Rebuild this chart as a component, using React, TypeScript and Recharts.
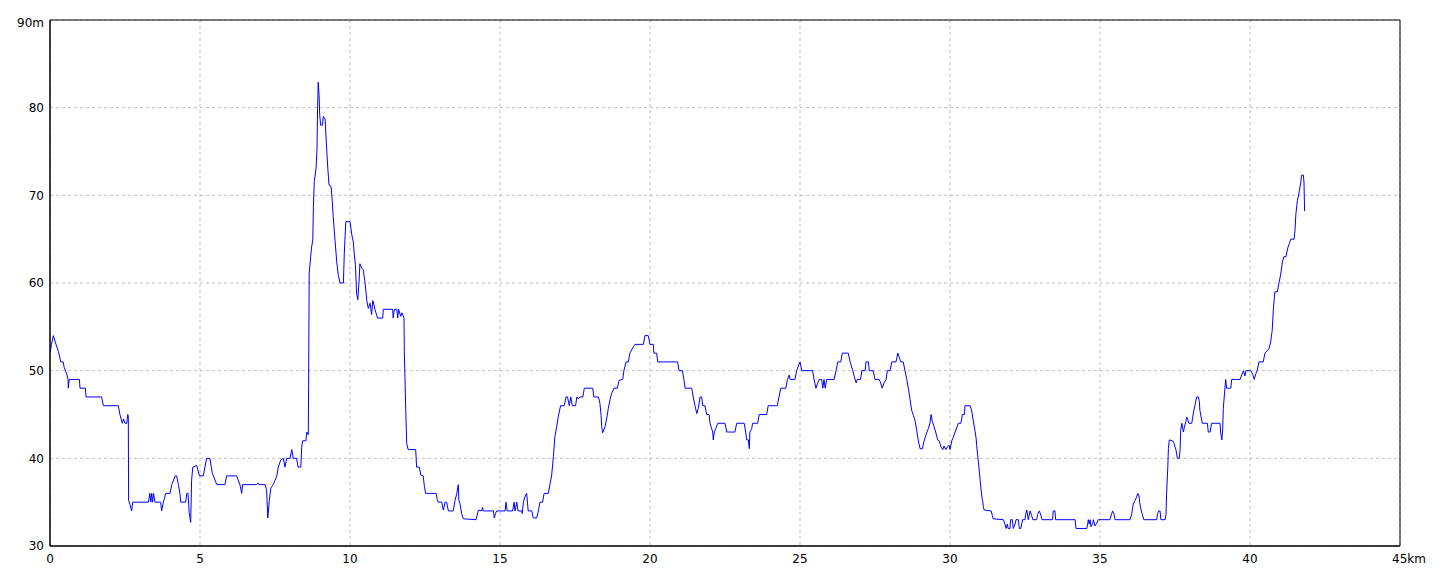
import React from 'react';
import { LineChart, Line, XAxis, YAxis, CartesianGrid, ReferenceArea } from 'recharts';

// [distance km, elevation m]
const segmentStart: [number, number][] = [
  [0, 52], [0.05, 53], [0.11, 54], [0.2, 53], [0.28, 52.2], [0.36, 51], [0.44, 51], [0.47, 50.4],
  [0.56, 49.6], [0.6, 49], [0.61, 48], [0.64, 49], [0.98, 49], [1.0, 48], [1.18, 48], [1.2, 47],
  [1.72, 47], [1.78, 46], [2.28, 46], [2.33, 45], [2.41, 44], [2.45, 44.5], [2.5, 44], [2.56, 44],
  [2.59, 45], [2.61, 44.8], [2.62, 35.2], [2.67, 34.7], [2.72, 34], [2.76, 35], [3.28, 35], [3.33, 36],
  [3.36, 35], [3.39, 36], [3.42, 35], [3.45, 36], [3.5, 35], [3.69, 35], [3.72, 34], [3.78, 35],
  [3.86, 36], [4.0, 36], [4.06, 37], [4.17, 38], [4.22, 38], [4.28, 37], [4.33, 36], [4.36, 35],
  [4.52, 35], [4.56, 36], [4.6, 36], [4.64, 33.8], [4.69, 32.7], [4.72, 37.5], [4.76, 39], [4.89, 39.2],
  [4.98, 38], [5.11, 38], [5.22, 40], [5.33, 40], [5.41, 38.3], [5.56, 37], [5.83, 37], [5.89, 38],
  [6.22, 38], [6.33, 37], [6.39, 36], [6.42, 37], [6.89, 37], [6.94, 37.2], [6.97, 37], [7.17, 37],
  [7.22, 36.4], [7.26, 33.2], [7.31, 35.2], [7.36, 36.6], [7.44, 37], [7.5, 37.5], [7.56, 38], [7.61, 39],
  [7.69, 39.8], [7.78, 40], [7.83, 39], [7.89, 40], [8.0, 40], [8.06, 41], [8.11, 40], [8.22, 40],
  [8.27, 39], [8.36, 39], [8.39, 41.2], [8.42, 42], [8.53, 42], [8.56, 43], [8.61, 42.7],
];

const segmentPeak: [number, number][] = [
  [8.62, 48.2], [8.64, 61.1], [8.69, 63], [8.72, 64.1], [8.76, 64.9], [8.78, 68.7], [8.81, 71.6],
  [8.87, 73.1], [8.9, 75.4], [8.92, 80.1], [8.94, 82.9], [8.97, 81.4], [8.99, 79.2], [9.02, 78],
  [9.08, 78], [9.11, 79], [9.17, 78.7], [9.22, 75.4], [9.26, 73.1], [9.3, 71.2], [9.37, 71],
  [9.41, 69.3], [9.44, 67.6], [9.5, 64.9], [9.56, 62.3], [9.61, 60.9], [9.67, 60], [9.78, 60],
  [9.81, 63.4], [9.86, 67], [10.0, 67], [10.06, 65.5], [10.11, 64.7], [10.14, 63.4], [10.18, 62.1],
  [10.22, 58.8], [10.26, 58.1], [10.3, 60.1], [10.33, 62.2], [10.39, 61.7], [10.44, 61.5], [10.5, 60.1],
  [10.56, 58], [10.61, 57.1], [10.67, 57.7], [10.72, 56.4], [10.76, 58], [10.8, 57.5], [10.83, 57],
  [10.92, 56], [11.09, 56], [11.11, 57], [11.42, 57], [11.44, 56], [11.48, 57], [11.56, 57],
  [11.59, 56], [11.62, 57], [11.69, 56.2], [11.73, 56.6], [11.8, 56], [11.81, 52.2], [11.86, 45.3],
  [11.89, 41.7], [11.94, 41], [12.19, 41], [12.22, 39], [12.31, 39], [12.36, 38.1], [12.44, 38],
  [12.48, 36.8], [12.52, 36], [12.87, 36], [12.91, 35.3], [12.94, 35], [13.06, 35], [13.11, 34.1],
  [13.17, 35], [13.22, 35], [13.28, 34], [13.44, 34], [13.5, 35.2], [13.56, 36], [13.61, 37],
  [13.63, 35.2], [13.67, 34.8], [13.72, 33.7], [13.78, 33.1], [14.2, 33], [14.28, 34.1], [14.39, 34],
  [14.42, 34.4], [14.44, 34], [14.78, 34], [14.81, 33.2], [14.85, 33.7], [14.89, 34], [15.17, 34],
  [15.2, 35], [15.24, 34], [15.42, 34], [15.47, 35], [15.5, 34], [15.56, 35], [15.6, 34], [15.72, 34],
  [15.74, 33.7], [15.78, 35], [15.83, 35.6], [15.89, 36], [15.94, 34], [16.06, 34], [16.11, 33.2],
  [16.22, 33.2], [16.28, 34], [16.33, 35], [16.42, 35], [16.47, 36], [16.61, 36], [16.67, 37.1],
];

const segmentMiddle: [number, number][] = [
  [16.72, 38], [16.78, 40.2], [16.83, 42.5], [16.89, 43.6], [16.94, 44.7], [17.0, 45.7], [17.02, 46],
  [17.14, 46], [17.2, 47], [17.25, 47], [17.31, 46], [17.36, 47], [17.41, 46], [17.52, 46], [17.56, 47],
  [17.6, 46.8], [17.67, 47], [17.76, 47], [17.81, 48], [18.09, 48], [18.13, 47], [18.28, 47],
  [18.33, 46.3], [18.37, 44.9], [18.39, 43.6], [18.42, 42.9], [18.5, 43.6], [18.56, 44.6], [18.61, 45.7],
  [18.67, 46.7], [18.72, 47.4], [18.8, 48], [18.91, 48], [18.97, 48.9], [19.09, 49], [19.13, 50],
  [19.2, 51], [19.28, 51], [19.33, 52], [19.44, 52.7], [19.5, 53], [19.78, 53], [19.83, 54], [19.94, 54],
  [20.0, 53], [20.11, 53], [20.13, 52], [20.22, 52], [20.26, 51], [20.92, 51], [20.97, 50], [21.08, 50],
  [21.13, 49], [21.17, 48], [21.39, 48], [21.44, 47], [21.5, 46], [21.56, 45.1], [21.61, 45.7],
  [21.67, 47], [21.72, 47], [21.76, 46], [21.83, 46], [21.89, 45], [21.97, 45], [22.0, 44], [22.09, 43],
  [22.11, 42.1], [22.14, 42.9], [22.19, 43.4], [22.26, 44], [22.5, 44], [22.56, 43], [22.83, 43],
  [22.89, 44], [23.14, 44], [23.19, 43], [23.22, 42.1], [23.28, 42.1], [23.31, 41.1], [23.33, 43],
  [23.39, 43.4], [23.42, 44], [23.59, 44], [23.64, 45], [23.89, 45], [23.94, 46], [24.24, 46], [24.3, 47],
  [24.36, 48], [24.53, 48], [24.58, 49], [24.64, 49.5], [24.67, 49], [24.83, 49], [24.89, 50],
  [24.94, 50.5], [25.0, 51], [25.06, 50], [25.42, 50], [25.47, 49], [25.53, 48], [25.58, 48.5],
  [25.64, 49], [25.72, 49], [25.76, 48], [25.8, 49], [25.84, 48], [25.89, 49], [26.14, 49], [26.2, 50],
  [26.26, 51], [26.36, 51], [26.41, 52], [26.61, 52], [26.67, 51], [26.76, 50], [26.81, 49.3],
  [26.87, 48.6], [26.91, 49], [27.02, 49], [27.06, 50], [27.17, 50], [27.2, 51], [27.28, 51], [27.31, 50],
  [27.44, 50], [27.5, 49], [27.64, 49], [27.69, 48.6], [27.74, 48], [27.8, 48.6], [27.87, 49], [27.91, 50],
  [28.0, 50], [28.06, 51], [28.2, 51], [28.26, 52], [28.31, 51.5], [28.36, 51], [28.44, 51], [28.5, 50],
  [28.56, 49], [28.61, 48], [28.67, 46.7], [28.72, 45.5], [28.78, 44.9], [28.83, 44.4], [28.89, 43.2],
  [28.94, 42.1], [29.0, 41.1], [29.08, 41.1], [29.13, 41.9], [29.22, 42.9], [29.28, 43.4], [29.33, 44],
  [29.37, 45], [29.41, 44.2], [29.47, 43.6], [29.53, 42.9], [29.59, 42.1], [29.64, 42], [29.7, 41.3],
  [29.76, 41], [29.8, 41.4], [29.86, 41], [29.91, 41.3], [29.97, 41.5], [30.0, 41], [30.06, 42],
  [30.11, 42.4], [30.17, 43], [30.28, 44], [30.36, 44], [30.39, 44.5], [30.41, 45], [30.48, 45],
  [30.5, 46], [30.67, 46],
];

const segmentEnd: [number, number][] = [
  [30.72, 45.5], [30.76, 44.6], [30.8, 43.8], [30.83, 43.2], [30.87, 42.3], [30.89, 41.5], [30.92, 40.4],
  [30.96, 39.1], [31.0, 37.7], [31.03, 36.6], [31.07, 35.4], [31.09, 35.1], [31.11, 34.5], [31.14, 34.1],
  [31.37, 34], [31.41, 33.5], [31.44, 33.1], [31.78, 33], [31.83, 32.5], [31.87, 32], [31.91, 32.5],
  [31.94, 32], [32.0, 32], [32.02, 33], [32.08, 33], [32.11, 32], [32.17, 32.5], [32.2, 33], [32.28, 33],
  [32.31, 32], [32.36, 32], [32.39, 32.5], [32.42, 33], [32.5, 33], [32.52, 33.6], [32.56, 34.1],
  [32.61, 33], [32.67, 34], [32.72, 33.5], [32.76, 33], [32.89, 33], [32.92, 33.6], [32.98, 34],
  [33.03, 33.5], [33.07, 33], [33.42, 33], [33.44, 34], [33.5, 34], [33.52, 33], [34.17, 33], [34.2, 32],
  [34.56, 32], [34.59, 32.5], [34.61, 33], [34.64, 32.5], [34.67, 33], [34.7, 32.2], [34.76, 32.6],
  [34.78, 33], [34.83, 32.3], [34.89, 32.6], [34.94, 33], [35.33, 33], [35.39, 33.7], [35.42, 34],
  [35.47, 33.6], [35.5, 33], [36.0, 33], [36.06, 33.7], [36.09, 34.4], [36.11, 34.8], [36.17, 35.2],
  [36.22, 35.6], [36.26, 36], [36.3, 35.7], [36.33, 34.8], [36.37, 34.1], [36.41, 33.6], [36.46, 33],
  [36.89, 33], [36.92, 33.7], [36.96, 34], [37.0, 34], [37.03, 33], [37.17, 33], [37.2, 33.6],
  [37.22, 36], [37.26, 39], [37.28, 41.1], [37.31, 42.1], [37.42, 42], [37.47, 41.7], [37.5, 41.3],
  [37.53, 41], [37.58, 40], [37.64, 40], [37.67, 41], [37.69, 43.2], [37.73, 44], [37.78, 43],
  [37.81, 43.5], [37.86, 44.2], [37.89, 44.7], [37.92, 44.5], [37.96, 44], [38.06, 44], [38.09, 44.7],
  [38.13, 45.5], [38.17, 46.1], [38.22, 47], [38.28, 47], [38.31, 46.5], [38.33, 45.5], [38.37, 44.7],
  [38.41, 44], [38.58, 44], [38.61, 43], [38.67, 43], [38.72, 44], [39.0, 44], [39.02, 43],
  [39.06, 42.1], [39.09, 43.3], [39.11, 45.7], [39.16, 47.8], [39.19, 49], [39.22, 48], [39.32, 48],
  [39.36, 48], [39.39, 49], [39.55, 49], [39.67, 49], [39.78, 50], [39.83, 49.4], [39.87, 50], [40.02, 50],
  [40.09, 49.6], [40.14, 49], [40.2, 49.7], [40.24, 50], [40.3, 51], [40.44, 51], [40.5, 52],
  [40.63, 52.5], [40.69, 53.3], [40.74, 54.6], [40.78, 57.1], [40.83, 59], [40.91, 59], [40.97, 60.1],
  [41.02, 60.9], [41.08, 62.4], [41.13, 63], [41.2, 63], [41.26, 64], [41.31, 64.5], [41.36, 65],
  [41.47, 65], [41.5, 66], [41.53, 67.9], [41.58, 69.4], [41.64, 70.4], [41.69, 71.4], [41.72, 72.3],
  [41.78, 72.3], [41.8, 71.4], [41.82, 68.2],
];

const xTicks = [0, 5, 10, 15, 20, 25, 30, 35, 40, 45];
const yTicks = [30, 40, 50, 60, 70, 80, 90];

const data = [...segmentStart, ...segmentPeak, ...segmentMiddle, ...segmentEnd].map(([km, m]) => ({ km, m }));

const FONT = 'DejaVu Sans';

const XTick = (props: any) => {
  const { x, y, payload } = props;
  const v = payload.value;
  if (v === 45) {
    return (
      <text x={x - 8} y={y} dy="0.71em" textAnchor="start" fill="#000" fontSize={12} fontFamily={FONT}>
        45km
      </text>
    );
  }
  return (
    <text x={x} y={y} dy="0.71em" textAnchor="middle" fill="#000" fontSize={12} fontFamily={FONT}>
      {v}
    </text>
  );
};

const YTick = (props: any) => {
  const { x, y, payload } = props;
  const v = payload.value;
  return (
    <text x={x} y={v === 90 ? y + 3 : y} dy="0.355em" textAnchor="end" fill="#000" fontSize={12} fontFamily={FONT}>
      {v === 90 ? '90m' : v}
    </text>
  );
};

export default function App() {
  return (
    <div style={{ width: 1432, height: 568, background: '#fff' }}>
      <LineChart width={1432} height={568} data={data} margin={{ top: 12, right: 40, bottom: 0, left: 0 }}>
        <CartesianGrid stroke="#c0c0c0" strokeDasharray="3 3" />
        <XAxis
          dataKey="km"
          type="number"
          domain={[0, 45]}
          ticks={xTicks}
          allowDataOverflow
          height={30}
          tickLine={false}
          axisLine={{ stroke: '#000' }}
          tick={<XTick />}
          tickSize={6}
          tickMargin={2}
        />
        <YAxis
          dataKey="m"
          type="number"
          domain={[30, 90]}
          ticks={yTicks}
          allowDataOverflow
          width={42}
          tickLine={false}
          axisLine={{ stroke: '#000' }}
          tick={<YTick />}
          tickSize={6}
          tickMargin={0}
        />
        <ReferenceArea x1={0} x2={45} y1={30} y2={90} fill="none" stroke="#000" strokeWidth={1} fillOpacity={0} />
        <Line
          type="linear"
          dataKey="m"
          stroke="#0000ff"
          strokeWidth={1}
          dot={false}
          isAnimationActive={false}
        />
      </LineChart>
    </div>
  );
}
